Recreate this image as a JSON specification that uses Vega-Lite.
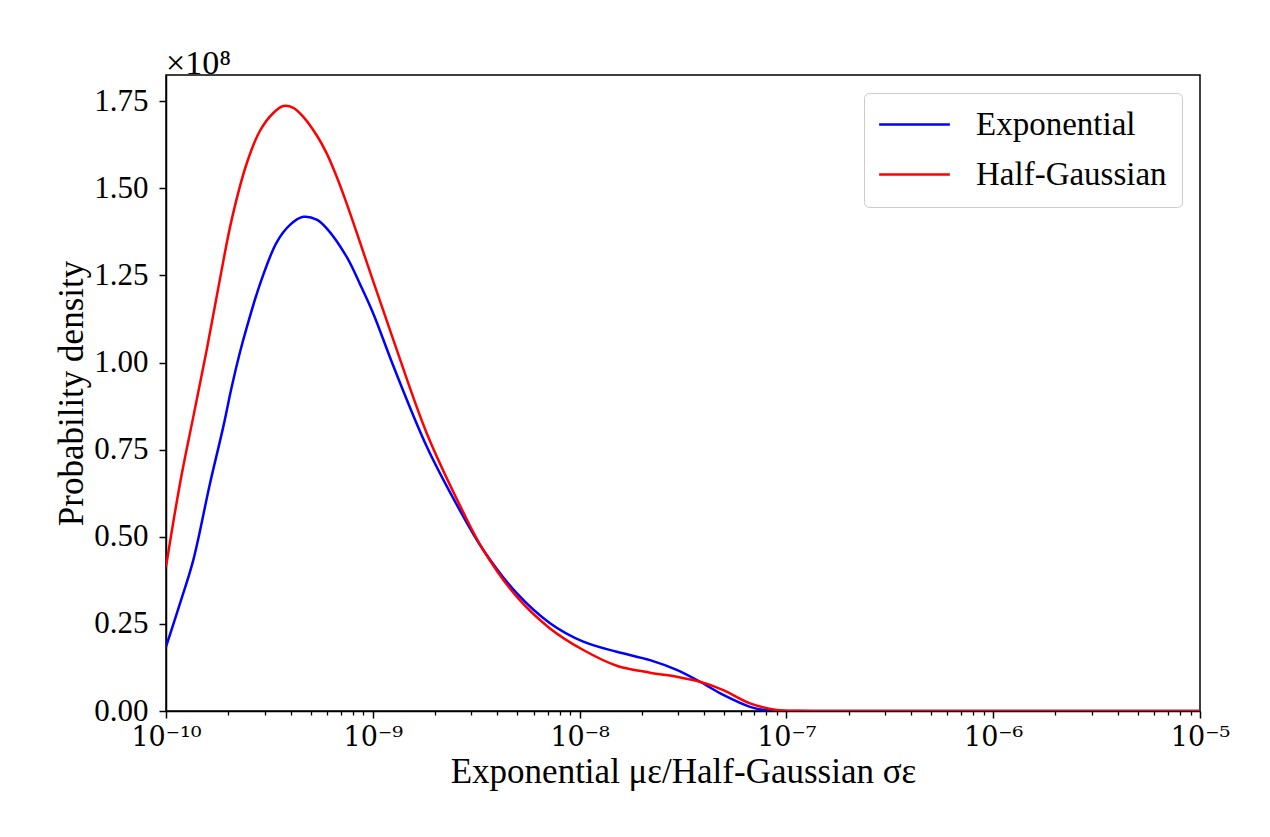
{
  "$schema": "https://vega.github.io/schema/vega-lite/v6.json",
  "autosize": {"type": "none"},
  "width": 1034,
  "height": 636,
  "padding": {"left": 166, "top": 75, "right": 70, "bottom": 126},
  "background": "#ffffff",
  "title": {
    "text": "×10⁸",
    "anchor": "start",
    "frame": "group",
    "fontSize": 34,
    "fontWeight": "normal",
    "font": "Liberation Serif",
    "color": "#000000",
    "offset": -6
  },
  "data": {
    "values": [
      {"x": 1.000e-10, "density": 0.184e8, "series": "Exponential"},
      {"x": 1.169e-10, "density": 0.309e8, "series": "Exponential"},
      {"x": 1.355e-10, "density": 0.433e8, "series": "Exponential"},
      {"x": 1.632e-10, "density": 0.653e8, "series": "Exponential"},
      {"x": 1.893e-10, "density": 0.816e8, "series": "Exponential"},
      {"x": 2.078e-10, "density": 0.930e8, "series": "Exponential"},
      {"x": 2.280e-10, "density": 1.030e8, "series": "Exponential"},
      {"x": 2.456e-10, "density": 1.100e8, "series": "Exponential"},
      {"x": 2.848e-10, "density": 1.225e8, "series": "Exponential"},
      {"x": 3.430e-10, "density": 1.345e8, "series": "Exponential"},
      {"x": 3.978e-10, "density": 1.395e8, "series": "Exponential"},
      {"x": 4.613e-10, "density": 1.418e8, "series": "Exponential"},
      {"x": 5.355e-10, "density": 1.410e8, "series": "Exponential"},
      {"x": 5.985e-10, "density": 1.385e8, "series": "Exponential"},
      {"x": 7.478e-10, "density": 1.303e8, "series": "Exponential"},
      {"x": 8.671e-10, "density": 1.225e8, "series": "Exponential"},
      {"x": 1.006e-9, "density": 1.140e8, "series": "Exponential"},
      {"x": 1.257e-9, "density": 0.990e8, "series": "Exponential"},
      {"x": 1.823e-9, "density": 0.759e8, "series": "Exponential"},
      {"x": 2.641e-9, "density": 0.575e8, "series": "Exponential"},
      {"x": 3.422e-9, "density": 0.462e8, "series": "Exponential"},
      {"x": 4.964e-9, "density": 0.338e8, "series": "Exponential"},
      {"x": 7.192e-9, "density": 0.252e8, "series": "Exponential"},
      {"x": 1.042e-8, "density": 0.199e8, "series": "Exponential"},
      {"x": 1.512e-8, "density": 0.170e8, "series": "Exponential"},
      {"x": 2.190e-8, "density": 0.146e8, "series": "Exponential"},
      {"x": 2.948e-8, "density": 0.118e8, "series": "Exponential"},
      {"x": 3.821e-8, "density": 0.084e8, "series": "Exponential"},
      {"x": 4.953e-8, "density": 0.046e8, "series": "Exponential"},
      {"x": 6.668e-8, "density": 0.012e8, "series": "Exponential"},
      {"x": 8.331e-8, "density": 0.001e8, "series": "Exponential"},
      {"x": 1.164e-7, "density": 0, "series": "Exponential"},
      {"x": 2.030e-7, "density": 0, "series": "Exponential"},
      {"x": 1.080e-6, "density": 0, "series": "Exponential"},
      {"x": 1.000e-5, "density": 0, "series": "Exponential"},
      {"x": 1.000e-10, "density": 0.414e8, "series": "Half-Gaussian"},
      {"x": 1.169e-10, "density": 0.653e8, "series": "Half-Gaussian"},
      {"x": 1.355e-10, "density": 0.844e8, "series": "Half-Gaussian"},
      {"x": 1.573e-10, "density": 1.036e8, "series": "Half-Gaussian"},
      {"x": 1.824e-10, "density": 1.240e8, "series": "Half-Gaussian"},
      {"x": 2.078e-10, "density": 1.410e8, "series": "Half-Gaussian"},
      {"x": 2.456e-10, "density": 1.571e8, "series": "Half-Gaussian"},
      {"x": 2.848e-10, "density": 1.665e8, "series": "Half-Gaussian"},
      {"x": 3.303e-10, "density": 1.716e8, "series": "Half-Gaussian"},
      {"x": 3.692e-10, "density": 1.736e8, "series": "Half-Gaussian"},
      {"x": 4.127e-10, "density": 1.731e8, "series": "Half-Gaussian"},
      {"x": 4.613e-10, "density": 1.705e8, "series": "Half-Gaussian"},
      {"x": 5.355e-10, "density": 1.652e8, "series": "Half-Gaussian"},
      {"x": 5.985e-10, "density": 1.600e8, "series": "Half-Gaussian"},
      {"x": 6.690e-10, "density": 1.533e8, "series": "Half-Gaussian"},
      {"x": 7.478e-10, "density": 1.456e8, "series": "Half-Gaussian"},
      {"x": 8.671e-10, "density": 1.345e8, "series": "Half-Gaussian"},
      {"x": 1.006e-9, "density": 1.232e8, "series": "Half-Gaussian"},
      {"x": 1.257e-9, "density": 1.065e8, "series": "Half-Gaussian"},
      {"x": 1.823e-9, "density": 0.797e8, "series": "Half-Gaussian"},
      {"x": 2.740e-9, "density": 0.570e8, "series": "Half-Gaussian"},
      {"x": 3.422e-9, "density": 0.462e8, "series": "Half-Gaussian"},
      {"x": 4.964e-9, "density": 0.328e8, "series": "Half-Gaussian"},
      {"x": 7.192e-9, "density": 0.237e8, "series": "Half-Gaussian"},
      {"x": 1.042e-8, "density": 0.175e8, "series": "Half-Gaussian"},
      {"x": 1.512e-8, "density": 0.130e8, "series": "Half-Gaussian"},
      {"x": 2.190e-8, "density": 0.110e8, "series": "Half-Gaussian"},
      {"x": 2.948e-8, "density": 0.098e8, "series": "Half-Gaussian"},
      {"x": 3.821e-8, "density": 0.084e8, "series": "Half-Gaussian"},
      {"x": 4.953e-8, "density": 0.060e8, "series": "Half-Gaussian"},
      {"x": 6.668e-8, "density": 0.022e8, "series": "Half-Gaussian"},
      {"x": 8.979e-8, "density": 0.003e8, "series": "Half-Gaussian"},
      {"x": 1.164e-7, "density": 0.0005e8, "series": "Half-Gaussian"},
      {"x": 2.030e-7, "density": 0, "series": "Half-Gaussian"},
      {"x": 1.080e-6, "density": 0, "series": "Half-Gaussian"},
      {"x": 1.000e-5, "density": 0, "series": "Half-Gaussian"}
    ]
  },
  "resolve": {"axis": {"x": "independent"}},
  "layer": [
    {
      "mark": {"type": "line", "strokeOpacity": 0},
      "encoding": {
        "x": {
          "field": "x",
          "type": "quantitative",
          "scale": {"type": "log", "domain": [1e-10, 1e-5], "nice": false},
          "axis": {
            "orient": "bottom",
            "title": null,
            "labels": false,
            "domain": false,
            "grid": false,
            "ticks": true,
            "tickSize": 4,
            "tickColor": "#000000",
            "tickWidth": 1.3,
            "values": [2e-10, 3e-10, 4e-10, 5e-10, 6e-10, 7e-10, 8e-10, 9e-10,
                       2e-9, 3e-9, 4e-9, 5e-9, 6e-9, 7e-9, 8e-9, 9e-9,
                       2e-8, 3e-8, 4e-8, 5e-8, 6e-8, 7e-8, 8e-8, 9e-8,
                       2e-7, 3e-7, 4e-7, 5e-7, 6e-7, 7e-7, 8e-7, 9e-7,
                       2e-6, 3e-6, 4e-6, 5e-6, 6e-6, 7e-6, 8e-6, 9e-6]
          }
        },
        "y": {"field": "density", "type": "quantitative", "scale": {"domain": [0, 1.825e8], "nice": false}},
        "detail": {"field": "series"}
      }
    },
    {
      "mark": {"type": "line", "interpolate": "catmull-rom", "strokeWidth": 2.5, "clip": true},
      "encoding": {
        "x": {
          "field": "x",
          "type": "quantitative",
          "scale": {"type": "log", "domain": [1e-10, 1e-5], "nice": false},
          "axis": {
            "orient": "bottom",
            "title": "Exponential με/Half-Gaussian σε",
            "values": [1e-10, 1e-9, 1e-8, 1e-7, 1e-6, 1e-5],
            "labelExpr": "round(log(datum.value)/LN10) == -10 ? '10⁻¹⁰' : round(log(datum.value)/LN10) == -9 ? '10⁻⁹' : round(log(datum.value)/LN10) == -8 ? '10⁻⁸' : round(log(datum.value)/LN10) == -7 ? '10⁻⁷' : round(log(datum.value)/LN10) == -6 ? '10⁻⁶' : '10⁻⁵'",
            "labelFont": "DejaVu Serif",
            "labelFontSize": 27,
            "labelFlush": false,
            "labelOverlap": false,
            "labelBound": false,
            "ticks": true,
            "tickSize": 7,
            "tickColor": "#000000",
            "tickWidth": 1.5,
            "labelPadding": 6,
            "titlePadding": 4,
            "titleFontSize": 35,
            "grid": false
          }
        },
        "y": {
          "field": "density",
          "type": "quantitative",
          "scale": {"domain": [0, 1.825e8], "nice": false, "zero": true},
          "axis": {
            "title": "Probability density",
            "values": [0, 0.25e8, 0.5e8, 0.75e8, 1e8, 1.25e8, 1.5e8, 1.75e8],
            "labelExpr": "format(datum.value / 1e8, '.2f')",
            "labelFlush": false,
            "labelOverlap": false,
            "ticks": true,
            "tickSize": 7,
            "tickColor": "#000000",
            "tickWidth": 1.5,
            "labelPadding": 11,
            "titlePadding": 4,
            "titleFontSize": 35,
            "grid": false
          }
        },
        "color": {
          "field": "series",
          "type": "nominal",
          "scale": {"domain": ["Exponential", "Half-Gaussian"], "range": ["#0000ff", "#ff0000"]},
          "legend": {
            "title": null,
            "orient": "top-right",
            "offset": 18,
            "padding": 15,
            "fillColor": "#ffffff",
            "strokeColor": "#cccccc",
            "cornerRadius": 5,
            "symbolType": "M-2.5,0H2.5",
            "symbolSize": 800,
            "symbolOffset": 19,
            "symbolStrokeWidth": 2.5,
            "labelFontSize": 33,
            "labelOffset": 45,
            "labelLimit": 400,
            "rowPadding": 16
          }
        }
      }
    }
  ],
  "config": {
    "font": "Liberation Serif",
    "view": {"stroke": "#000000", "strokeWidth": 1.5},
    "axis": {
      "domainColor": "#000000",
      "domainWidth": 1.5,
      "labelColor": "#000000",
      "labelFont": "Liberation Serif",
      "labelFontSize": 31,
      "titleFont": "Liberation Serif",
      "titleFontWeight": "normal",
      "titleColor": "#000000"
    },
    "legend": {
      "labelFont": "Liberation Serif",
      "labelColor": "#000000"
    }
  }
}
